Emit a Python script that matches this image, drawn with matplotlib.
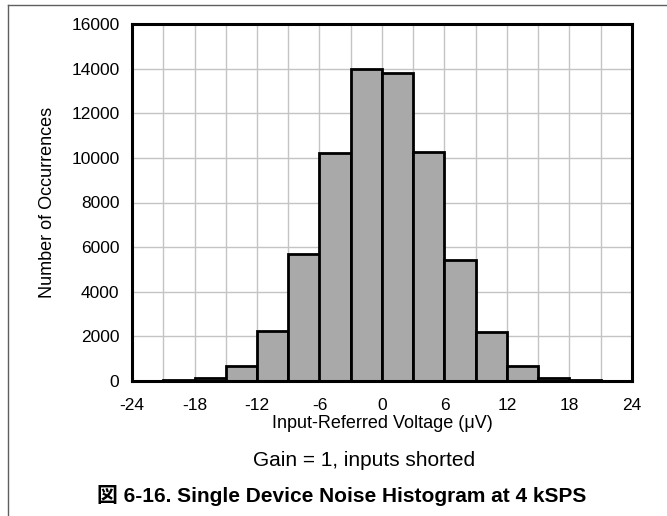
import matplotlib.pyplot as plt
import numpy as np
from matplotlib.lines import Line2D

# histogram bins (uV) and counts
bin_left = [-24, -21, -18, -15, -12, -9, -6, -3, 0, 3, 6, 9, 12, 15, 18, 21]
counts = [0, 40, 150, 680, 2220, 5680, 10220, 14000, 13800, 10270, 5440, 2200, 660, 150, 30, 0]
x_ticks = [-24, -18, -12, -6, 0, 6, 12, 18, 24]
y_ticks = [0, 2000, 4000, 6000, 8000, 10000, 12000, 14000, 16000]

plt.rcParams['font.family'] = ['Liberation Sans', 'Noto Sans CJK JP']
plt.rcParams['axes.unicode_minus'] = False

W, H = 667, 516
fig = plt.figure(figsize=(W/100, H/100), dpi=100)
ax = fig.add_axes([132/W, 1 - 381/H, (632-132)/W, (381-24)/H])

ax.bar(bin_left, counts, width=3, align='edge', color='#a9a9a9',
       edgecolor='black', linewidth=2, zorder=3)

ax.set_xlim(-24, 24)
ax.set_ylim(0, 16000)
ax.set_xticks(x_ticks)
ax.set_yticks(y_ticks)
ax.set_xticks(np.arange(-24, 25, 3), minor=True)
ax.grid(True, which='both', axis='x', color='#c4c4c4', linewidth=1, zorder=0)
ax.grid(True, which='major', axis='y', color='#c4c4c4', linewidth=1, zorder=0)
ax.tick_params(which='both', length=0, labelsize=12.5)
ax.tick_params(axis='x', pad=12)
ax.tick_params(axis='y', pad=9)
for s in ax.spines.values():
    s.set_linewidth(2.2)
    s.set_zorder(4)

ax.set_xlabel('Input-Referred Voltage (\u03bcV)', fontsize=13, va='center')
ax.xaxis.set_label_coords(0.5, (381 - 423) / 357)
ax.set_ylabel('Number of Occurrences', fontsize=13, va='center')
ax.yaxis.set_label_coords((47 - 132) / 500, 0.5)

fig.text(364/W, 1 - 460/H, 'Gain = 1, inputs shorted', ha='center', va='center', fontsize=15)
fig.text(342/W, 1 - 496/H, '図 6-16. Single Device Noise Histogram at 4 kSPS',
         ha='center', va='center', fontsize=15, fontweight='bold')

# page frame (left and top edges)
fig.add_artist(Line2D([8/W, 8/W], [0, 1 - 5/H], transform=fig.transFigure, color='#606060', linewidth=1))
fig.add_artist(Line2D([8/W, 1], [1 - 5/H, 1 - 5/H], transform=fig.transFigure, color='#606060', linewidth=1))

fig.savefig('out.png', dpi=100)
